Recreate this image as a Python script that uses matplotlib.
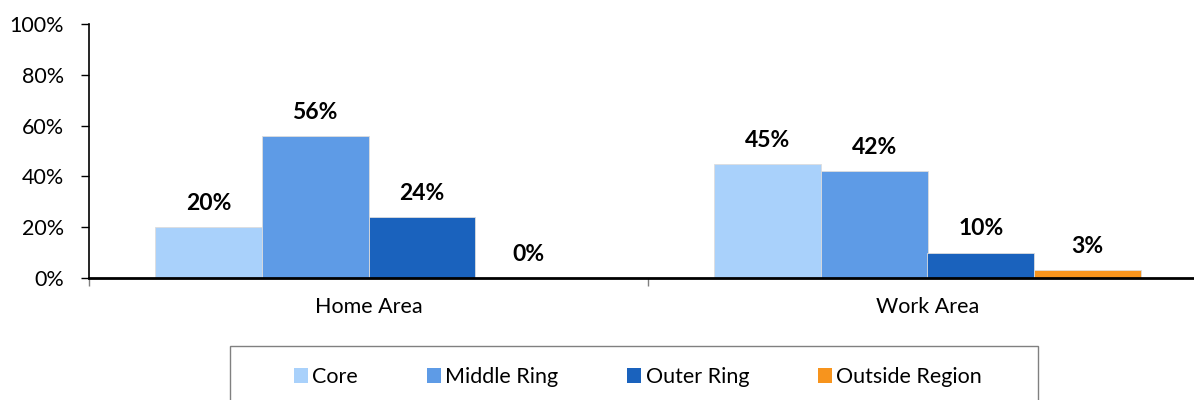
import numpy as np
import matplotlib
matplotlib.use('Agg')
import matplotlib.pyplot as plt
from matplotlib.patches import Rectangle, Patch

categories = ['Home Area', 'Work Area']
series = ['Core', 'Middle Ring', 'Outer Ring', 'Outside Region']
values = {
    'Core': [20, 45],
    'Middle Ring': [56, 42],
    'Outer Ring': [24, 10],
    'Outside Region': [0, 3],
}
colors = ['#A9D1FB', '#5E9BE6', '#1A62BD', '#F7941D']

plt.rcParams['font.family'] = ['Lato', 'DejaVu Sans']
plt.rcParams['font.size'] = 15.5

W, H = 1194, 400
fig = plt.figure(figsize=(W / 100, H / 100), dpi=100)
ax = fig.add_axes([89 / W, 122 / H, 1118 / W, 254 / H])

x = np.arange(len(categories))
w = 0.191
for i, (name, c) in enumerate(zip(series, colors)):
    pos = x + (i - 1.5) * w
    bars = ax.bar(pos, values[name], w, color=c, edgecolor='#dddddd',
                  linewidth=0.6, label=name)
    for xp, v in zip(pos, values[name]):
        ax.annotate('%d%%' % v, (xp, v), xytext=(0, 17), textcoords='offset points',
                    ha='center', va='center', fontsize=16.5, fontweight='bold')

ax.set_xlim(-0.5, 1.5)
ax.set_ylim(0, 100)
ax.set_yticks(np.arange(0, 101, 20))
ax.set_yticklabels(['%d%%' % v for v in range(0, 101, 20)])
ax.set_xticks(x)
ax.set_xticklabels(categories)
ax.set_xticks([-0.5, 0.5, 1.5], minor=True)
ax.tick_params(axis='x', which='major', length=0, pad=14)
ax.tick_params(axis='x', which='minor', length=6, width=1, color='#808080', direction='out')
ax.tick_params(axis='y', length=6, width=1, direction='out', pad=12)
for s in ['top', 'right']:
    ax.spines[s].set_visible(False)
ax.spines['left'].set_linewidth(1.2)
ax.spines['bottom'].set_linewidth(2)

# legend frame
fig.patches.append(Rectangle((230 / W, -0.2), 808 / W, 0.2 + (H - 346) / H,
                             transform=fig.transFigure, facecolor='white',
                             edgecolor='#808080', linewidth=1))
handles = [Patch(facecolor=c, edgecolor='none') for c in colors]
fig.legend(handles, series, loc='center', bbox_to_anchor=(638 / W, 1 - 377 / H),
           ncol=4, frameon=False, fontsize=15.5, handlelength=0.65, handleheight=0.65,
           handletextpad=0.2, columnspacing=3.2)

fig.savefig('out.png', dpi=100)
